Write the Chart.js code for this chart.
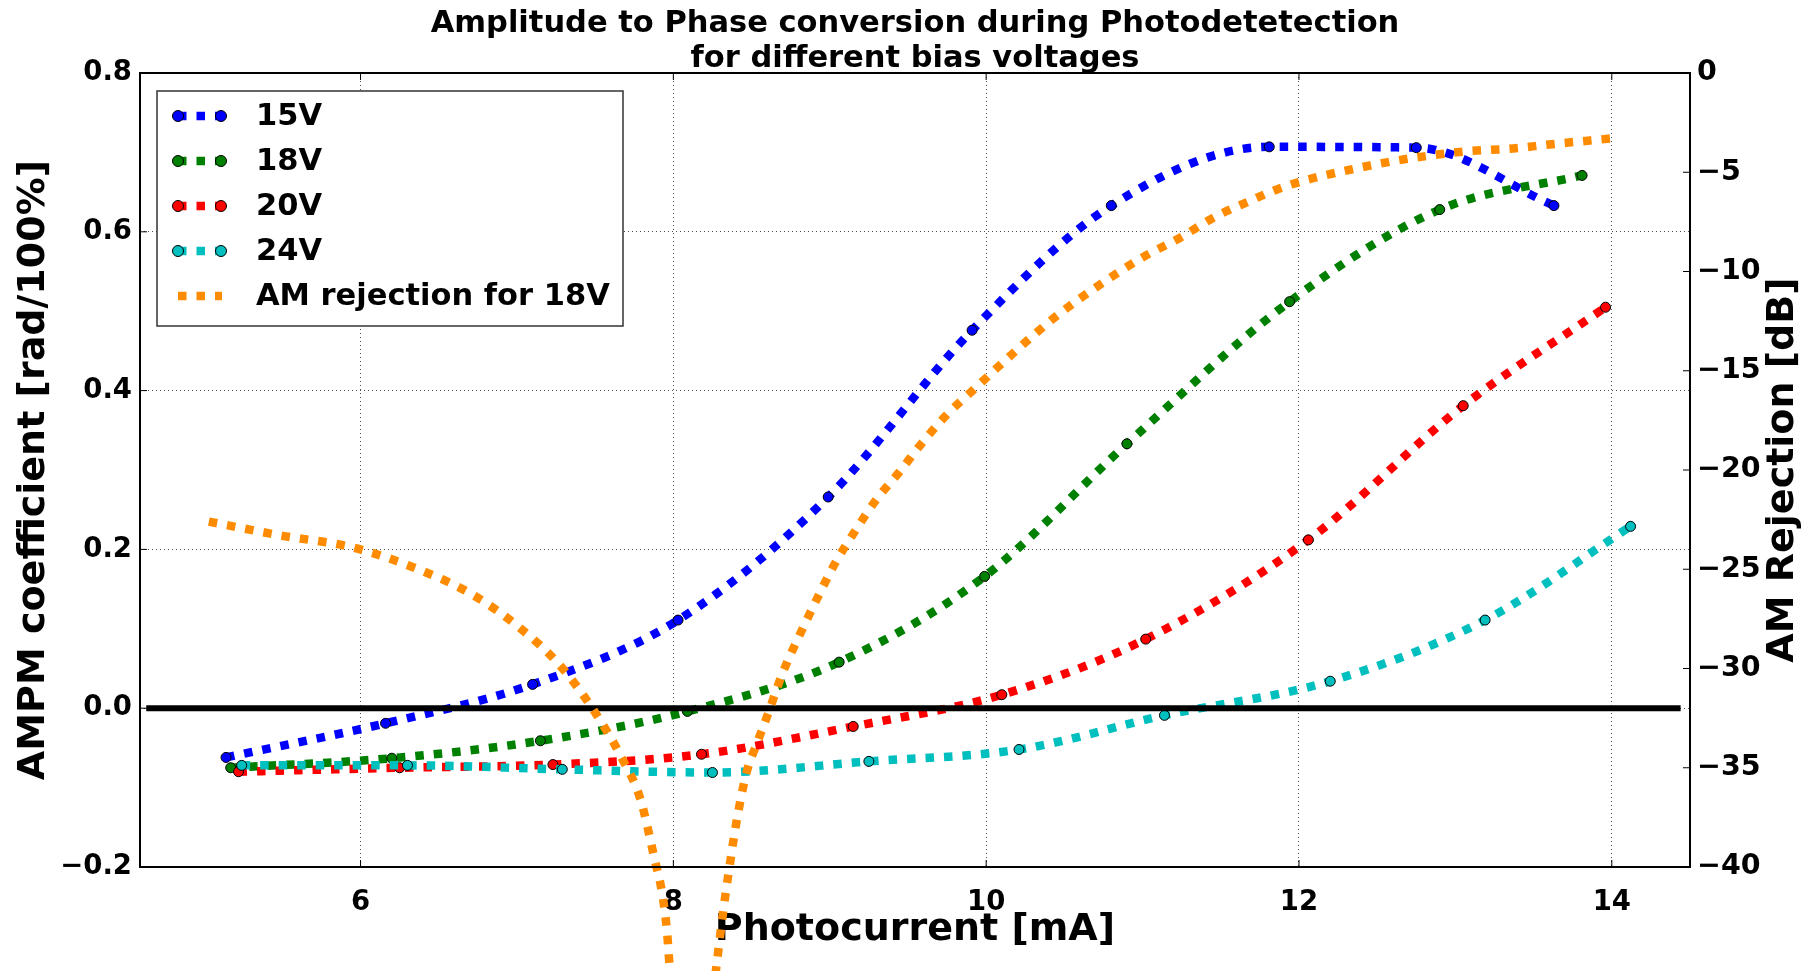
<!DOCTYPE html>
<html>
<head>
<meta charset="utf-8">
<title>AMPM coefficient vs photocurrent</title>
<script src="https://cdn.jsdelivr.net/npm/chart.js@4.4.0/dist/chart.umd.min.js"></script>
<style>
  html, body { margin: 0; padding: 0; background: #fff; }
  canvas { display: block; }
</style>
</head>
<body>
<canvas id="ampmChart" width="1810" height="971"></canvas>
<script>
// AMPM coefficient [rad/100%] vs photocurrent [mA], one pair of arrays per bias voltage
const x15 = [5.14, 6.16, 7.10, 8.03, 8.99, 9.91, 10.80, 11.81, 12.75, 13.63];
const y15 = [-0.062, -0.019, 0.030, 0.111, 0.266, 0.476, 0.633, 0.707, 0.706, 0.633];
const x18 = [5.17, 6.20, 7.15, 8.09, 9.06, 9.99, 10.90, 11.94, 12.90, 13.81];
const y18 = [-0.075, -0.063, -0.041, -0.004, 0.058, 0.166, 0.333, 0.512, 0.628, 0.671];
const x20 = [5.22, 6.25, 7.23, 8.18, 9.15, 10.10, 11.02, 12.06, 13.05, 13.96];
const y20 = [-0.080, -0.075, -0.071, -0.058, -0.023, 0.017, 0.087, 0.212, 0.381, 0.505];
const x24 = [5.24, 6.30, 7.29, 8.25, 9.25, 10.21, 11.14, 12.20, 13.19, 14.12];
const y24 = [-0.072, -0.072, -0.077, -0.081, -0.067, -0.052, -0.009, 0.034, 0.111, 0.229];

// AM rejection [dB] for 18V (right axis)
const xAM = [5.03, 5.49, 5.95, 6.40, 6.72, 7.01, 7.27, 7.49, 7.67, 7.79, 7.88, 7.93, 7.96, 7.975,
  8.10, 8.277, 8.316, 8.355, 8.40, 8.466, 8.533, 8.60, 8.70, 8.826, 8.93, 9.034, 9.16, 9.297,
  9.445, 9.594, 9.75, 9.913, 10.175, 10.44, 10.72, 11.02, 11.24, 11.45, 11.67, 11.88, 12.09,
  12.31, 12.56, 12.80, 13.05, 13.37, 13.60, 13.86, 13.99];
const yAM = [-22.6, -23.3, -23.9, -25.1, -26.3, -27.9, -29.8, -32.1, -34.5, -36.6, -39.6, -41.4, -43.3, -44.9,
  -56.0, -44.9, -42.4, -40.2, -37.9, -35.3, -33.8, -32.4, -30.2, -28.0, -26.3, -24.7, -23.1, -21.5,
  -20.1, -18.6, -17.2, -16.0, -14.1, -12.3, -10.7, -9.2, -8.3, -7.3, -6.5, -5.8, -5.3,
  -4.9, -4.5, -4.2, -3.96, -3.8, -3.6, -3.4, -3.3];

// horizontal reference line at zero
const xZero = [4.63, 14.44];
const yZero = [0, 0];

const xTicks = [6, 8, 10, 12, 14];
const yTicks = [-0.2, 0.0, 0.2, 0.4, 0.6, 0.8];
const y2Ticks = [-40, -35, -30, -25, -20, -15, -10, -5, 0];

const titleLines = ['Amplitude to Phase conversion during Photodetetection', 'for different bias voltages'];

function pts(xs, ys) {
  return xs.map((x, i) => ({ x: x, y: ys[i] }));
}
function minus(s) {
  return s.replace('-', '\u2212');
}

Chart.defaults.font.family = '"DejaVu Sans", sans-serif';
Chart.defaults.color = '#000';

const LW = 8.5;
const DASH = [8.5, 10];
function series(label, xs, ys, color, order) {
  return {
    label: label,
    data: pts(xs, ys),
    yAxisID: 'y',
    showLine: true,
    borderColor: color,
    backgroundColor: color,
    borderWidth: LW,
    borderDash: DASH,
    borderCapStyle: 'butt',
    cubicInterpolationMode: 'monotone',
    pointRadius: 5,
    pointBorderWidth: 1,
    pointBorderColor: '#000',
    pointBackgroundColor: color,
    order: order
  };
}

const datasets = [
  series('15V', x15, y15, '#0000ff', 5),
  series('18V', x18, y18, '#008000', 4),
  series('20V', x20, y20, '#ff0000', 3),
  series('24V', x24, y24, '#00bfbf', 2),
  {
    label: 'AM rejection for 18V',
    data: pts(xAM, yAM),
    yAxisID: 'y2',
    showLine: true,
    borderColor: '#ff8c00',
    backgroundColor: '#ff8c00',
    borderWidth: LW,
    borderDash: DASH,
    borderCapStyle: 'butt',
    cubicInterpolationMode: 'monotone',
    pointRadius: 0,
    clip: false,
    order: 0
  },
  {
    label: 'zero',
    data: pts(xZero, yZero),
    yAxisID: 'y',
    showLine: true,
    borderColor: '#000',
    borderWidth: 6,
    pointRadius: 0,
    order: 1
  }
];

// frame, inner tick marks, legend box and right-hand axis title
const decorPlugin = {
  id: 'decor',
  afterDatasetsDraw(chart) {
    const ctx = chart.ctx;
    const a = chart.chartArea;
    const sx = chart.scales.x, sy = chart.scales.y, sy2 = chart.scales.y2;
    ctx.save();
    ctx.strokeStyle = '#000';
    ctx.lineWidth = 1;
    ctx.beginPath();
    xTicks.forEach(v => {
      const px = sx.getPixelForValue(v);
      ctx.moveTo(px, a.bottom); ctx.lineTo(px, a.bottom - 7);
      ctx.moveTo(px, a.top); ctx.lineTo(px, a.top + 7);
    });
    yTicks.forEach(v => {
      const py = sy.getPixelForValue(v);
      ctx.moveTo(a.left, py); ctx.lineTo(a.left + 7, py);
    });
    y2Ticks.forEach(v => {
      const py = sy2.getPixelForValue(v);
      ctx.moveTo(a.right, py); ctx.lineTo(a.right - 7, py);
    });
    ctx.stroke();
    ctx.lineWidth = 2;
    ctx.strokeRect(a.left, a.top, a.right - a.left, a.bottom - a.top);

    // legend
    const box = { left: 157, top: 91, width: 466, height: 235 };
    ctx.fillStyle = '#fff';
    ctx.fillRect(box.left, box.top, box.width, box.height);
    ctx.strokeStyle = '#333';
    ctx.lineWidth = 1.5;
    ctx.strokeRect(box.left, box.top, box.width, box.height);
    const entries = [0, 1, 2, 3, 4];
    entries.forEach((idx, row) => {
      const ds = chart.data.datasets[idx];
      const y = 116 + row * 45;
      ctx.save();
      ctx.strokeStyle = ds.borderColor;
      ctx.lineWidth = ds.borderWidth;
      ctx.lineCap = 'butt';
      ctx.setLineDash(ds.borderDash);
      ctx.beginPath();
      ctx.moveTo(178, y); ctx.lineTo(222, y);
      ctx.stroke();
      ctx.restore();
      if (ds.pointRadius > 0) {
        [178, 221].forEach(px => {
          ctx.beginPath();
          ctx.arc(px, y, 5.5, 0, Math.PI * 2);
          ctx.fillStyle = ds.pointBackgroundColor;
          ctx.fill();
          ctx.lineWidth = 1;
          ctx.strokeStyle = '#000';
          ctx.stroke();
        });
      }
      ctx.fillStyle = '#000';
      ctx.font = 'bold 30.5px "DejaVu Sans"';
      ctx.textAlign = 'left';
      ctx.textBaseline = 'middle';
      ctx.fillText(ds.label, 256, y + 1);
    });

    // right axis title, reading bottom to top
    ctx.translate(1783, (a.top + a.bottom) / 2);
    ctx.rotate(-Math.PI / 2);
    ctx.fillStyle = '#000';
    ctx.font = 'bold 38px "DejaVu Sans"';
    ctx.textAlign = 'center';
    ctx.textBaseline = 'middle';
    ctx.fillText('AM Rejection [dB]', 0, 0);
    ctx.restore();
  }
};

const tickFont = { size: 27.5, weight: 'bold' };
const gridColor = 'rgba(0,0,0,0.7)';

new Chart(document.getElementById('ampmChart'), {
  type: 'scatter',
  data: { datasets: datasets },
  options: {
    responsive: false,
    animation: false,
    layout: { padding: { left: 20, right: 0, top: 0, bottom: 0 } },
    plugins: {
      legend: { display: false },
      tooltip: { enabled: false },
      title: {
        display: true,
        text: titleLines,
        color: '#000',
        font: { size: 30.5, weight: 'bold', lineHeight: '35px' },
        padding: { top: 7, bottom: -4 }
      }
    },
    scales: {
      x: {
        type: 'linear',
        min: 4.59,
        max: 14.5,
        afterBuildTicks: s => { s.ticks = xTicks.map(v => ({ value: v })); },
        afterFit: s => { s.height = 104; },
        ticks: { font: tickFont, padding: 19, autoSkip: false, maxRotation: 0, callback: v => String(v) },
        grid: { color: gridColor, lineWidth: 1, drawTicks: false },
        border: { display: false, dash: [1, 3] },
        title: { display: true, text: 'Photocurrent [mA]', font: { size: 38, weight: 'bold' }, padding: { top: 0, bottom: 18.5 } }
      },
      y: {
        type: 'linear',
        position: 'left',
        min: -0.2,
        max: 0.8,
        afterBuildTicks: s => { s.ticks = yTicks.map(v => ({ value: v })); },
        afterFit: s => { s.width = 120; },
        ticks: { font: tickFont, padding: 8, autoSkip: false, callback: v => minus(v.toFixed(1)) },
        grid: { color: gridColor, lineWidth: 1, drawTicks: false },
        border: { display: false, dash: [1, 3] },
        title: { display: true, text: 'AMPM coefficient [rad/100%]', font: { size: 38, weight: 'bold' }, padding: { top: -9, bottom: 0 } }
      },
      y2: {
        type: 'linear',
        position: 'right',
        min: -40,
        max: 0,
        afterBuildTicks: s => { s.ticks = y2Ticks.map(v => ({ value: v })); },
        afterFit: s => { s.width = 120; },
        ticks: { font: { size: 28.5, weight: 'bold' }, padding: 7, autoSkip: false, callback: v => minus(String(v)) },
        grid: { drawOnChartArea: false, drawTicks: false },
        border: { display: false }
      }
    }
  },
  plugins: [decorPlugin]
});
</script>
</body>
</html>
